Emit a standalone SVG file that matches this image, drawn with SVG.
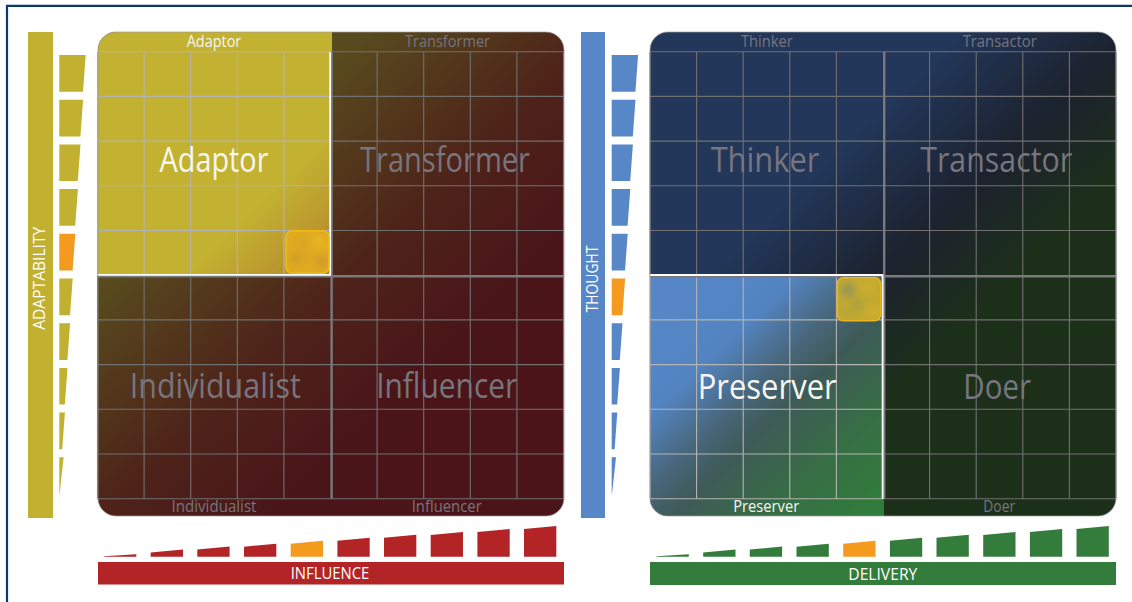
<svg xmlns="http://www.w3.org/2000/svg" width="1132" height="602" viewBox="0 0 1132 602">
<style>
.big{font-family:"Open Sans","Liberation Sans",sans-serif;font-size:34px;text-anchor:middle}
.sm{font-family:"Open Sans","Liberation Sans",sans-serif;font-size:15.5px;text-anchor:middle}
.ax{font-family:"Open Sans","Liberation Sans",sans-serif;font-size:16px;fill:#ffffff;text-anchor:middle}
.gray{fill:#77757e}
.wh{fill:#f6f6f2}
.gd{fill:none;stroke:#717071;stroke-width:1.1}
.gl{fill:none;stroke:#b4b4b2;stroke-width:1.1}
.div{fill:none;stroke:#7a797b;stroke-width:2.4}
.wl{fill:none;stroke:#ffffff;stroke-width:1.8}
.yel{fill:#c2b031}
.blu{fill:#5787c6}
.red{fill:#b22426}
.grn{fill:#347c3b}
.org{fill:#f39a1f}
.edge{fill:none;stroke:#9c9a9c;stroke-width:1}
</style>
<defs>
<clipPath id="clipL"><rect x="98" y="32" width="466" height="484" rx="18"/></clipPath>
<clipPath id="clipR"><rect x="650" y="32" width="466" height="484" rx="18"/></clipPath>
<clipPath id="mkL"><rect x="286" y="230.8" width="43" height="42.5" rx="6"/></clipPath>
<clipPath id="mkR"><rect x="837.3" y="277.7" width="43.4" height="43" rx="6"/></clipPath>
<linearGradient id="gL" gradientUnits="userSpaceOnUse" x1="98" y1="32" x2="564" y2="516">
<stop offset="0" stop-color="#5b511e"/><stop offset="0.28" stop-color="#574a1e"/><stop offset="0.52" stop-color="#4e2319"/><stop offset="0.7" stop-color="#4a1519"/><stop offset="1" stop-color="#4a1418"/>
</linearGradient>
<linearGradient id="gA" gradientUnits="userSpaceOnUse" x1="98" y1="32" x2="332" y2="275.5">
<stop offset="0" stop-color="#c3b131"/><stop offset="0.7" stop-color="#c3b131"/><stop offset="0.87" stop-color="#bb972e"/><stop offset="1" stop-color="#aa7a2a"/>
</linearGradient>
<linearGradient id="gR" gradientUnits="userSpaceOnUse" x1="650" y1="32" x2="1116" y2="516">
<stop offset="0" stop-color="#22375a"/><stop offset="0.32" stop-color="#22375a"/><stop offset="0.5" stop-color="#1c222e"/><stop offset="0.64" stop-color="#1c3019"/><stop offset="1" stop-color="#1b2f1a"/>
</linearGradient>
<linearGradient id="gP" gradientUnits="userSpaceOnUse" x1="650" y1="275" x2="883" y2="516">
<stop offset="0" stop-color="#5787c7"/><stop offset="0.3" stop-color="#5384c2"/><stop offset="0.46" stop-color="#48667a"/><stop offset="0.56" stop-color="#3e5a58"/><stop offset="0.76" stop-color="#376e44"/><stop offset="1" stop-color="#2f7e3a"/>
</linearGradient>
<filter id="blur" x="-30%" y="-30%" width="160%" height="160%"><feGaussianBlur stdDeviation="4"/></filter>
</defs>

<rect x="0" y="0" width="1132" height="602" fill="#ffffff"/>
<path id="frame" d="M7,602V5.8H1132" fill="none" stroke="#0e3a6a" stroke-width="2.2"/>

<!-- LEFT PANEL -->
<g id="axis-adaptability">
<rect class="yel" x="28" y="32" width="25" height="486"/>
<text class="ax" transform="translate(45,278.3) rotate(-90)" textLength="103" lengthAdjust="spacingAndGlyphs">ADAPTABILITY</text>
</g>
<g id="scale-adaptability">
<path class="yel" d="M59.3,55H85.7L83,91.7H59.3Z"/>
<path class="yel" d="M59.3,99.7H83.1L80.4,136.4H59.3Z"/>
<path class="yel" d="M59.3,144.4H80.5L77.8,181.1H59.3Z"/>
<path class="yel" d="M59.3,189.1H77.9L75.2,225.8H59.3Z"/>
<path class="org" d="M59.3,233.8H75.3L72.6,270.5H59.3Z"/>
<path class="yel" d="M59.3,278.5H72.7L70,315.2H59.3Z"/>
<path class="yel" d="M59.3,323.2H70.1L67.4,359.9H59.3Z"/>
<path class="yel" d="M59.3,367.9H67.5L64.8,404.6H59.3Z"/>
<path class="yel" d="M59.3,412.6H64.9L62.2,449.3H59.3Z"/>
<path class="yel" d="M59.3,457.3H63.6L59.6,494H59.3Z"/>
</g>
<g id="scale-influence">
<path class="red" d="M104,556.7V556.2L136.3,554.3V556.7Z"/>
<path class="red" d="M150.7,556.7V552.6L183,549.6V556.7Z"/>
<path class="red" d="M197.3,556.7V549.6L229.6,546.6V556.7Z"/>
<path class="red" d="M244,556.7V546.7L276.3,543.7V556.7Z"/>
<path class="org" d="M290.7,556.7V543.7L323,540.7V556.7Z"/>
<path class="red" d="M337.4,556.7V540.8L369.7,537.8V556.7Z"/>
<path class="red" d="M384,556.7V537.8L416.3,534.8V556.7Z"/>
<path class="red" d="M430.7,556.7V534.9L463,531.9V556.7Z"/>
<path class="red" d="M477.4,556.7V531.9L509.7,528.9V556.7Z"/>
<path class="red" d="M524,556.7V529L556.3,526V556.7Z"/>
</g>
<g id="axis-influence">
<rect class="red" x="98" y="562" width="466" height="22.5"/>
<text class="ax" x="330" y="579.3" textLength="78.6" lengthAdjust="spacingAndGlyphs">INFLUENCE</text>
</g>

<g id="panel-left">
<rect x="98" y="32" width="466" height="484" rx="18" fill="url(#gL)"/>
<g id="quad-adaptor" clip-path="url(#clipL)">
<rect x="98" y="32" width="234" height="243.5" fill="url(#gA)"/>
</g>
<path class="gd" d="M377.1,51.7V498.7M423.7,51.7V498.7M470.3,51.7V498.7M516.9,51.7V498.7M563.5,51.7V498.7M97.5,275.2V498.7M144.1,275.2V498.7M190.7,275.2V498.7M237.3,275.2V498.7M283.9,275.2V498.7M97.5,319.9H563.5M97.5,364.6H563.5M97.5,409.3H563.5M97.5,454H563.5M97.5,498.7H563.5M330.5,51.7H563.5M330.5,96.4H563.5M330.5,141.1H563.5M330.5,185.8H563.5M330.5,230.5H563.5"/>
<path class="gl" d="M97.5,51.7V275.2M144.1,51.7V275.2M190.7,51.7V275.2M237.3,51.7V275.2M283.9,51.7V275.2M97.5,51.7H330.5M97.5,96.4H330.5M97.5,141.1H330.5M97.5,185.8H330.5M97.5,230.5H330.5"/>
<path class="div" d="M331.6,51.7V498.7M97.5,276.2H563.5"/>
<path class="wl" d="M330.2,51.7V275M97.5,274.8H331"/>
<rect class="edge" x="98" y="32" width="466" height="484" rx="18" stroke-opacity="0.7"/>
<g id="marker-left">
<g clip-path="url(#mkL)">
<rect x="286" y="230.8" width="43" height="42.5" fill="#deab22"/>
<g filter="url(#blur)">
<ellipse cx="297" cy="258" rx="7" ry="5" fill="#cd9a28"/>
<ellipse cx="318" cy="242" rx="7" ry="6" fill="#ecb71e"/>
<ellipse cx="322" cy="262" rx="6" ry="7" fill="#cf9829"/>
<ellipse cx="304" cy="244" rx="6" ry="4" fill="#d6a126"/>
</g>
</g>
<rect x="286" y="230.8" width="43" height="42.5" rx="6" fill="none" stroke="#f3b91a" stroke-width="1.6"/>
</g>
<text class="big wh" x="214" y="171.5" textLength="109" lengthAdjust="spacingAndGlyphs">Adaptor</text>
<text class="big gray" x="445" y="171.5" textLength="170" lengthAdjust="spacingAndGlyphs">Transformer</text>
<text class="big gray" x="215.3" y="398.3" textLength="171" lengthAdjust="spacingAndGlyphs">Individualist</text>
<text class="big gray" x="446.7" y="398.3" textLength="141" lengthAdjust="spacingAndGlyphs">Influencer</text>
<text class="sm wh" x="214" y="46.7" textLength="54.6" lengthAdjust="spacingAndGlyphs">Adaptor</text>
<text class="sm gray" x="447.5" y="46.7" textLength="85" lengthAdjust="spacingAndGlyphs">Transformer</text>
<text class="sm gray" x="214" y="512.3" textLength="85" lengthAdjust="spacingAndGlyphs">Individualist</text>
<text class="sm gray" x="446.7" y="512.3" textLength="70" lengthAdjust="spacingAndGlyphs">Influencer</text>
</g>

<!-- RIGHT PANEL -->
<g id="axis-thought">
<rect class="blu" x="581" y="32" width="24" height="486"/>
<text class="ax" transform="translate(598.3,279) rotate(-90)" textLength="66.6" lengthAdjust="spacingAndGlyphs">THOUGHT</text>
</g>
<g id="scale-thought" transform="translate(552.4,0)">
<path class="blu" d="M59.3,55H85.7L83,91.7H59.3Z"/>
<path class="blu" d="M59.3,99.7H83.1L80.4,136.4H59.3Z"/>
<path class="blu" d="M59.3,144.4H80.5L77.8,181.1H59.3Z"/>
<path class="blu" d="M59.3,189.1H77.9L75.2,225.8H59.3Z"/>
<path class="blu" d="M59.3,233.8H75.3L72.6,270.5H59.3Z"/>
<path class="org" d="M59.3,278.5H72.7L70,315.2H59.3Z"/>
<path class="blu" d="M59.3,323.2H70.1L67.4,359.9H59.3Z"/>
<path class="blu" d="M59.3,367.9H67.5L64.8,404.6H59.3Z"/>
<path class="blu" d="M59.3,412.6H64.9L62.2,449.3H59.3Z"/>
<path class="blu" d="M59.3,457.3H63.6L59.6,494H59.3Z"/>
</g>
<g id="scale-delivery" transform="translate(552.5,0)">
<path class="grn" d="M104,556.7V556.2L136.3,554.3V556.7Z"/>
<path class="grn" d="M150.7,556.7V552.6L183,549.6V556.7Z"/>
<path class="grn" d="M197.3,556.7V549.6L229.6,546.6V556.7Z"/>
<path class="grn" d="M244,556.7V546.7L276.3,543.7V556.7Z"/>
<path class="org" d="M290.7,556.7V543.7L323,540.7V556.7Z"/>
<path class="grn" d="M337.4,556.7V540.8L369.7,537.8V556.7Z"/>
<path class="grn" d="M384,556.7V537.8L416.3,534.8V556.7Z"/>
<path class="grn" d="M430.7,556.7V534.9L463,531.9V556.7Z"/>
<path class="grn" d="M477.4,556.7V531.9L509.7,528.9V556.7Z"/>
<path class="grn" d="M524,556.7V529L556.3,526V556.7Z"/>
</g>
<g id="axis-delivery">
<rect class="grn" x="650" y="562" width="466" height="23"/>
<text class="ax" x="882.8" y="580" textLength="69" lengthAdjust="spacingAndGlyphs">DELIVERY</text>
</g>

<g id="panel-right">
<rect x="650" y="32" width="466" height="484" rx="18" fill="url(#gR)"/>
<g id="quad-preserver" clip-path="url(#clipR)">
<rect x="650" y="275.2" width="234" height="241" fill="url(#gP)"/>
</g>
<path class="gd" d="M929.6,51.7V498.7M976.2,51.7V498.7M1022.8,51.7V498.7M1069.4,51.7V498.7M1116,51.7V498.7M650,51.7V275.2M696.6,51.7V275.2M743.2,51.7V275.2M789.8,51.7V275.2M836.4,51.7V275.2M650,51.7H1116M650,96.4H1116M650,141.1H1116M650,185.8H1116M650,230.5H1116M883,319.9H1116M883,364.6H1116M883,409.3H1116M883,454H1116M883,498.7H1116"/>
<path class="gl" d="M650,275.2V498.7M696.6,275.2V498.7M743.2,275.2V498.7M789.8,275.2V498.7M836.4,275.2V498.7M650,319.9H883M650,364.6H883M650,409.3H883M650,454H883M650,498.7H883"/>
<path class="div" d="M884.2,51.7V498.7M650,276.2H1116"/>
<path class="wl" d="M650,275H883.2M882.6,275V498.7"/>
<rect class="edge" x="650" y="32" width="466" height="484" rx="18" stroke-opacity="0.7"/>
<g id="marker-right">
<g clip-path="url(#mkR)">
<rect x="837.3" y="277.7" width="43.4" height="43" fill="#c2a930"/>
<g filter="url(#blur)">
<ellipse cx="848" cy="290" rx="6" ry="7" fill="#8a9064"/>
<ellipse cx="867" cy="287" rx="7" ry="4" fill="#d6b22a"/>
<ellipse cx="857" cy="305" rx="5" ry="5" fill="#a09a48"/>
<ellipse cx="873" cy="312" rx="6" ry="5" fill="#d8b02a"/>
<ellipse cx="845" cy="313" rx="4" ry="4" fill="#aaa040"/>
</g>
</g>
<rect x="837.3" y="277.7" width="43.4" height="43" rx="6" fill="none" stroke="#e9b51a" stroke-width="1.6"/>
</g>
<text class="big gray" x="765" y="172" textLength="108.7" lengthAdjust="spacingAndGlyphs">Thinker</text>
<text class="big gray" x="996.2" y="172" textLength="152" lengthAdjust="spacingAndGlyphs">Transactor</text>
<text class="big wh" x="767.2" y="399" textLength="139" lengthAdjust="spacingAndGlyphs">Preserver</text>
<text class="big gray" x="997.2" y="399" textLength="67.7" lengthAdjust="spacingAndGlyphs">Doer</text>
<text class="sm gray" x="766.8" y="46.7" textLength="51.7" lengthAdjust="spacingAndGlyphs">Thinker</text>
<text class="sm gray" x="999.7" y="46.7" textLength="74" lengthAdjust="spacingAndGlyphs">Transactor</text>
<text class="sm wh" x="766.2" y="512.3" textLength="66" lengthAdjust="spacingAndGlyphs">Preserver</text>
<text class="sm gray" x="999.2" y="512.3" textLength="31.7" lengthAdjust="spacingAndGlyphs">Doer</text>
</g>
</svg>
